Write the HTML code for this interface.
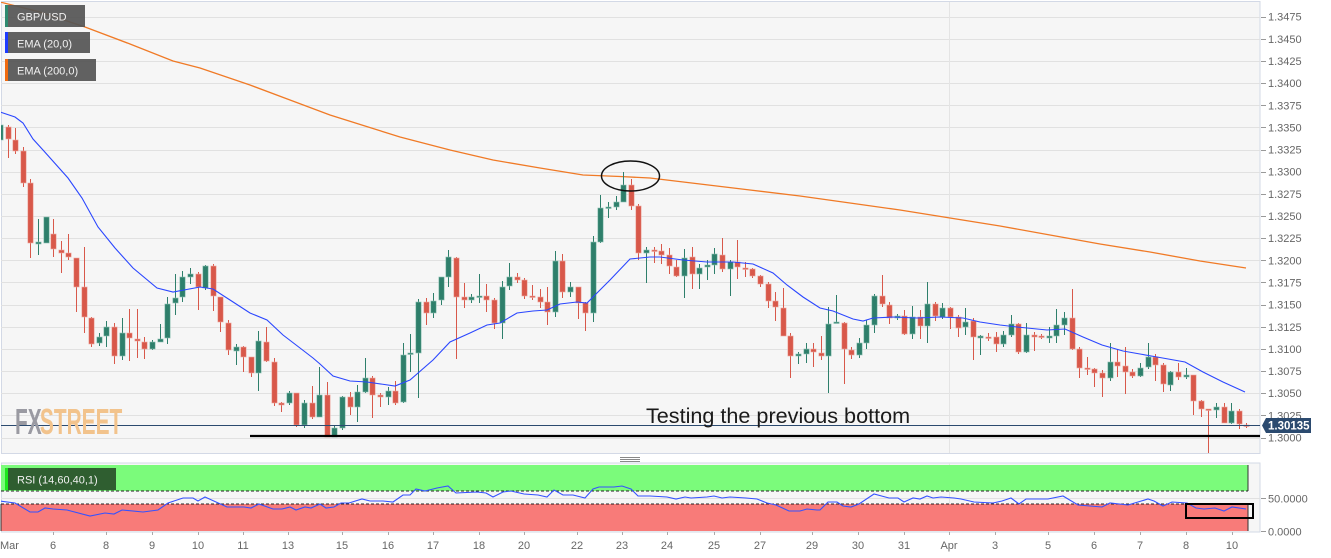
<!DOCTYPE html>
<html><head><meta charset="utf-8"><style>
html,body{margin:0;padding:0;background:#fff;width:1331px;height:558px;overflow:hidden}
svg{display:block;font-family:"Liberation Sans",Arial,sans-serif}
</style></head><body>
<svg id="s" width="1331" height="558" viewBox="0 0 1331 558" xmlns="http://www.w3.org/2000/svg">
<defs>
<clipPath id="cp"><rect x="1" y="2" width="1259" height="451"/></clipPath>
<clipPath id="cr"><rect x="1" y="463" width="1259" height="69"/></clipPath>
</defs>
<rect x="0" y="0" width="1331" height="558" fill="#fff"/>
<!-- main panel -->
<rect x="1.5" y="1.5" width="1258.5" height="452" fill="#f6f6f6" stroke="#d3d9e6" stroke-width="1"/>
<g id="grid" stroke="#e1e1e1" stroke-width="1"></g>
<line x1="949.5" y1="2" x2="949.5" y2="453" stroke="#e4e4e4"/>
<g id="yax" font-size="11" fill="#666"></g>
<g clip-path="url(#cp)">
<polyline fill="none" stroke="#f07a26" stroke-width="1.3" points="0,2 40,12 85,27 130,44 173,61 200,68 250,85 290,100 330,115 400,137 450,150 493,160 540,168 583,175 620,176.5 650,178 700,184 750,190 800,196 850,203 900,210 950,218 1000,226 1050,235 1100,244 1150,252 1200,261 1246,268"/>
<g id="candles"></g>
<polyline fill="none" stroke="#2a46ff" stroke-width="1.1" points="0,112 15,117 23,123 33,139 43,150 68,178 82,198 98,227 115,248 133,268 157,288 173,292 200,287 213,289 230,300 250,313 267,320 283,335 300,348 313,358 320,364 333,376 350,381 367,382 395,386 410,380 433,360 450,342 470,333 487,325 500,323 517,313 533,311 547,310 560,304 577,302 587,303 597,293 610,280 630,259 650,257 660,257 683,260 707,262 733,262 753,264 773,273 787,285 803,297 820,308 833,311 853,319 863,321 873,318 893,317 917,318 940,317 963,318 980,322 1000,325 1017,327 1047,330 1065,329 1083,337 1102,345 1123,351 1140,354 1157,357 1185,362 1203,372 1223,382 1245,392"/>
<line x1="0" y1="425.5" x2="1260" y2="425.5" stroke="#2b4a6f" stroke-width="1"/>
<line x1="250" y1="436" x2="1260" y2="436" stroke="#000" stroke-width="2.2"/>
<ellipse cx="630.5" cy="176" rx="29" ry="15" fill="none" stroke="#111" stroke-width="1.5"/>
</g>
<!-- watermark -->
<g font-weight="bold" font-size="36" transform="translate(15,434) scale(0.58,1)">
<text x="0" y="0" fill="#9a9aa2">FX</text>
<text x="43" y="0" fill="#f2c38c">STREET</text>
</g>
<text x="646" y="423" font-size="21.6" fill="#1a1a1a">Testing the previous bottom</text>
<!-- legends -->
<rect x="5" y="5" width="80" height="22" fill="#555" fill-opacity="0.93"/>
<rect x="5" y="5" width="3" height="22" fill="#2e8a70"/>
<text x="17" y="20.5" font-size="11" fill="#f2f2f2">GBP/USD</text>
<rect x="5" y="32" width="85" height="21" fill="#555" fill-opacity="0.93"/>
<rect x="5" y="32" width="3" height="21" fill="#1e3cff"/>
<text x="17" y="47.5" font-size="11" fill="#f2f2f2">EMA (20,0)</text>
<rect x="5" y="59" width="91" height="22" fill="#555" fill-opacity="0.93"/>
<rect x="5" y="59" width="3" height="22" fill="#f06a10"/>
<text x="17" y="74.5" font-size="11" fill="#f2f2f2">EMA (200,0)</text>
<!-- price label -->
<path d="M1262,425.5 L1266,418 L1311,418 L1311,433 L1266,433 Z" fill="#2b4a6f"/>
<text x="1268" y="429.5" font-size="11.5" font-weight="bold" fill="#fff">1.30135</text>
<!-- handle -->
<g stroke="#888" stroke-width="1"><line x1="620" y1="457.5" x2="640" y2="457.5"/><line x1="620" y1="459.5" x2="640" y2="459.5"/><line x1="620" y1="461.5" x2="640" y2="461.5"/></g>
<!-- RSI panel -->
<rect x="1.5" y="463" width="1258.5" height="69" fill="#f6f6f6" stroke="#d3d9e6" stroke-width="1"/>
<line x1="949.5" y1="463" x2="949.5" y2="532" stroke="#e4e4e4"/>
<line x1="1" y1="498.5" x2="1260" y2="498.5" stroke="#e1e1e1"/>
<rect x="1" y="465" width="1247" height="26" fill="#7bfb7b"/>
<rect x="1" y="504" width="1247" height="27" fill="#f87b79"/>
<line x1="1248" y1="465" x2="1248" y2="491" stroke="#333" stroke-width="1"/>
<line x1="1248" y1="504" x2="1248" y2="531" stroke="#333" stroke-width="1"/>
<line x1="1" y1="504" x2="1" y2="531" stroke="#333" stroke-width="1"/>
<line x1="1" y1="491" x2="1248" y2="491" stroke="#222" stroke-width="1" stroke-dasharray="3,2"/>
<line x1="1" y1="504" x2="1248" y2="504" stroke="#222" stroke-width="1" stroke-dasharray="3,2"/>
<g clip-path="url(#cr)">
<polyline fill="none" stroke="#3552ff" stroke-width="1.1" points="0,501 15,503 30,512 38,512 45,508 53,509 67,510 90,516 105,513 114,514 122,510 143,512 158,510 168,503 183,498 193,498 198,501 205,497 227,507 244,507 251,508 259,504 273,509 282,509 290,507 296,510 305,507 311,508 320,504 326,508 334,507 341,503 349,503 362,499 370,501 383,501 393,502 403,495 410,495 416,489 425,491 437,488 448,486 456,493 477,492 486,493 493,497 503,492 511,491 524,494 538,495 547,497 554,490 563,495 573,495 585,498 593,489 599,487 614,487 622,486 631,489 638,496 650,496 667,497 676,499 685,497 691,498 707,497 714,496 722,498 730,497 746,498 757,499 767,503 776,505 789,511 800,511 807,509 817,510 820,510 828,502 837,502 843,506 851,507 859,504 874,494 889,498 898,498 904,502 913,498 920,499 927,496 933,498 941,497 954,498 961,499 974,502 993,503 1002,501 1011,498 1019,504 1026,499 1048,499 1063,496 1078,505 1102,507 1110,503 1128,505 1148,499 1154,501 1163,506 1172,502 1187,503 1196,508 1204,509 1215,508 1224,511 1232,507 1246,509"/>
</g>
<rect x="1186" y="504" width="67" height="14" fill="none" stroke="#000" stroke-width="2"/>
<rect x="5" y="468" width="111" height="22" fill="#2f5e30"/>
<rect x="5" y="468" width="3" height="22" fill="#1ee61e"/>
<text x="17" y="483.5" font-size="11" fill="#f2f2f2">RSI (14,60,40,1)</text>
<g stroke="#999"><line x1="1261" y1="498.5" x2="1266" y2="498.5"/><line x1="1261" y1="531.5" x2="1266" y2="531.5"/></g>
<g font-size="11" fill="#666">
<text x="1268" y="502.5">50.0000</text>
<text x="1268" y="535.5">0.0000</text>
</g>
<g id="xax" font-size="11" fill="#666" text-anchor="middle"></g>
</svg>
<script>
(function(){
var NS="http://www.w3.org/2000/svg";
function el(n,a,p){var e=document.createElementNS(NS,n);for(var k in a)e.setAttribute(k,a[k]);p.appendChild(e);return e;}
var grid=document.getElementById('grid'),yax=document.getElementById('yax');
for(var k=0;k<=19;k++){
 var y=16.7+22.15*k, yy=Math.round(y)+0.5;
 el('line',{x1:1,y1:yy,x2:1260,y2:yy},grid);
 el('line',{x1:1261,y1:yy,x2:1266,y2:yy,stroke:'#999'},yax);
 var t=el('text',{x:1268,y:(y+4).toFixed(1)},yax);
 t.textContent=(1.3475-0.0025*k).toFixed(4);
}
var C=[
['g',125,140,123,142],['r',127,139,125,158],['r',140,151,128,154],['r',151,183,147,187],['r',183,243,179,258],
['g',242,244,219,255],['g',217,243,217,243],['r',234,249,219,257],['r',250,253,241,273],['r',253,257,234,260],
['r',258,287,258,312],['r',287,317,247,333],['r',318,344,317,347],['g',337,343,333,346],['g',327,336,321,347],
['r',327,356,323,364],['g',333,356,318,360],['r',333,338,309,361],['r',339,341,309,358],['r',342,349,337,359],
['g',342,349,340,350],['g',339,342,324,342],['g',304,338,297,344],['g',298,303,274,315],['g',277,297,271,302],
['g',274,277,268,284],['r',274,287,272,310],['g',266,288,265,290],['r',266,296,264,311],['r',297,322,297,332],
['r',323,350,320,355],['g',347,351,344,365],['r',347,357,346,372],['r',357,373,357,377],['g',341,373,331,391],
['r',342,361,327,362],['r',362,403,358,406],['r',403,405,402,412],['g',393,403,391,405],['r',393,425,393,427],
['g',403,425,400,428],['r',403,417,386,419],['g',395,417,367,417],['r',395,437,382,437],['g',428,437,426,437],
['g',397,428,396,430],['r',397,407,392,415],['g',392,407,385,422],['g',378,392,358,393],['r',378,395,376,418],
['r',395,397,393,407],['g',391,397,387,405],['r',391,403,381,405],['g',355,402,343,403],['g',353,354,334,372],
['g',302,353,299,398],['r',302,313,298,325],['g',301,313,293,318],['g',277,300,277,305],['g',257,277,250,287],
['r',258,297,257,359],['r',297,300,283,308],['g',297,300,294,303],['g',296,297,274,303],['r',296,300,284,312],
['r',300,323,298,329],['g',287,323,281,339],['g',277,286,263,290],['r',277,280,273,283],['r',280,296,278,299],
['r',296,297,285,300],['r',297,302,289,308],['r',302,312,287,325],['g',261,312,251,317],['r',261,292,254,298],
['g',287,292,282,297],['r',287,303,287,319],['r',303,313,302,331],['g',242,313,236,322],['g',208,242,195,243],
['g',207,208,202,218],['g',202,207,196,210],['g',185,202,172,202],['r',185,206,179,210],['r',206,253,204,260],
['g',250,253,247,283],['r',250,251,247,263],['r',251,255,244,264],['r',255,266,248,274],['r',267,276,260,277],
['g',258,276,249,298],['r',257,274,247,289],['g',268,274,264,289],['g',265,267,260,280],['g',254,265,248,274],
['r',255,269,238,272],['g',262,269,260,296],['r',262,267,240,279],['r',268,269,262,277],['r',269,276,268,278],
['r',276,284,275,287],['r',284,301,282,308],['r',301,307,292,321],['r',308,336,288,336],['r',336,356,333,378],
['g',354,356,352,364],['g',349,354,343,363],['r',349,352,343,367],['r',353,356,336,360],['g',324,356,307,393],
['g',322,323,295,323],['r',323,349,322,384],['r',350,355,347,359],['g',343,355,338,358],['g',325,343,320,349],
['g',296,325,294,333],['r',296,304,275,307],['r',305,318,302,324],['g',316,318,314,320],['r',316,334,310,335],
['g',317,334,306,339],['r',317,326,310,339],['g',304,326,282,343],['r',304,316,302,321],['g',308,317,303,319],
['r',308,317,307,329],['r',317,328,315,337],['g',322,327,308,335],['r',321,337,318,360],['g',336,338,335,355],
['r',337,338,333,341],['r',337,344,332,352],['g',335,344,331,347],['g',324,335,315,337],['r',324,352,323,354],
['g',335,352,323,353],['r',335,337,332,351],['r',336,337,334,339],['g',336,338,327,343],['g',325,336,309,343],
['g',318,325,312,335],['r',318,349,289,350],['r',349,368,347,378],['r',368,369,357,375],['r',369,373,368,387],
['r',373,378,370,397],['g',362,378,343,381],['r',362,366,349,377],['r',366,372,347,394],['r',372,376,369,378],
['g',368,376,363,377],['g',357,367,343,369],['r',357,365,354,381],['r',365,384,363,392],['g',372,385,371,391],
['r',372,377,363,380],['g',375,377,368,379],['r',375,401,375,415],['r',401,409,400,417],['r',409,410,409,453],
['g',407,410,403,418],['r',407,423,403,423],['g',411,423,403,424],['r',411,424,409,429],['r',425,426,423,428]
];
var g=document.getElementById('candles');
for(var i=0;i<C.length;i++){
 var c=C[i],x=7.6*i,col=c[0]=='g'?'#2e7f6b':'#d8584a',lt=c[0]=='g'?'#8fc2b4':'#efaaa2';
 var wx=Math.round(x)+0.5;
 el('line',{x1:wx,y1:c[3],x2:wx,y2:c[4],stroke:col,'stroke-width':1},g);
 var h=Math.max(1.5,c[2]-c[1]);
 el('rect',{x:(wx-2.7).toFixed(1),y:c[1],width:5.4,height:h,fill:col,stroke:lt,'stroke-width':0.6},g);
}
var X=[['Mar',9.5],['6',53],['8',106],['9',152],['10',198],['11',243],['13',288],['15',342],['16',388],['17',433],['18',479],['20',524],['22',577],['23',622],['24',667],['25',714],['27',760],['29',812],['30',858],['31',904],['Apr',949],['3',995],['5',1048],['6',1094],['7',1140],['8',1186],['10',1232]];
var xa=document.getElementById('xax');
for(var j=0;j<X.length;j++){
 var lx=X[j][1];
 if(j>0) el('line',{x1:lx+0.5,y1:532,x2:lx+0.5,y2:535,stroke:'#aaa'},xa);
 var t=el('text',{x:lx,y:549},xa);t.textContent=X[j][0];
}
})();
</script>
</body></html>
